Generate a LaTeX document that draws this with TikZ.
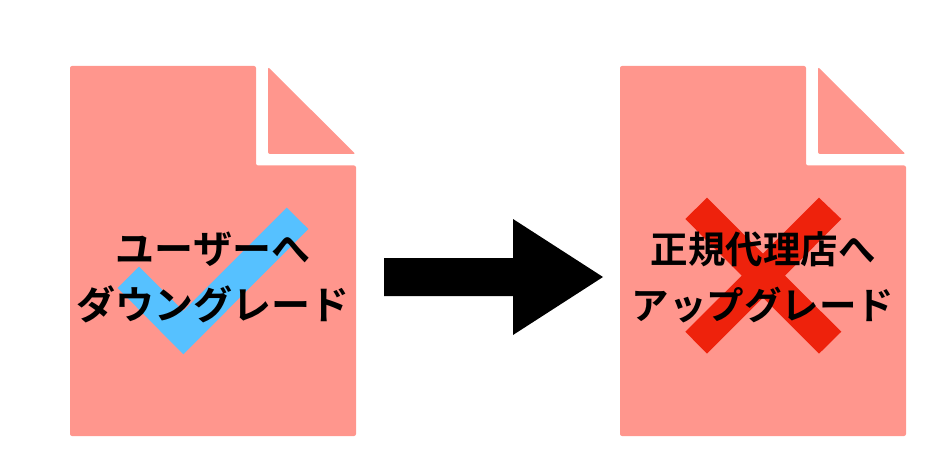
\documentclass[tikz,border=0pt]{standalone}
\usepackage{xcolor}
\usepackage{fontspec}
\usepackage{tikz}
\newfontfamily\jpbold{Noto Sans CJK JP Bold}
\definecolor{pagepink}{HTML}{FF968D}
\definecolor{tickblue}{HTML}{56C1FF}
\definecolor{crossred}{HTML}{EE220C}
\tikzset{
  pagefill/.style={fill=pagepink, rounded corners=2pt},
  pagetext/.style={text=black, align=center, inner sep=0pt},
}

\begin{document}
\begin{tikzpicture}[x=1pt, y=-1pt]
\useasboundingbox (0, 0) rectangle (948, 468);

\fill[pagefill] (70, 66) -- (256, 66) -- (256, 165.5) -- (356, 165.5) -- (356, 436) -- (70, 436) -- cycle;
\fill[pagefill] (268, 67) -- (355.5, 154) -- (268, 154) -- cycle;
\fill[pagefill] (620, 66) -- (806, 66) -- (806, 165.5) -- (906, 165.5) -- (906, 436) -- (620, 436) -- cycle;
\fill[pagefill] (818, 67) -- (905.5, 154) -- (818, 154) -- cycle;

\fill[tickblue] (286.7, 207.7) -- (308.3, 229) -- (183.3, 354.3) -- (117.7, 288) -- (139, 266.7) -- (183.3, 311) -- cycle;

\fill[crossred] (707, 197.7) -- (763, 253.7) -- (819, 197.7) -- (841.3, 219) -- (785, 275.7) -- (841.3, 331.7) -- (819, 353.7) -- (763, 297.7) -- (707, 353.7) -- (685.3, 331.7) -- (741.7, 275.7) -- (685.3, 219) -- cycle;

\fill[black] (384, 258) -- (513, 258) -- (513, 219) -- (603, 277) -- (513, 335) -- (513, 296) -- (384, 296) -- cycle;

\node[pagetext, font=\jpbold\fontsize{39}{56}\selectfont] (downgrade) at (213, 277) {ユーザーへ\\ダウングレード};
\node[pagetext, font=\jpbold\fontsize{37.5}{56}\selectfont] (upgrade) at (763, 277) {正規代理店へ\\アップグレード};
\end{tikzpicture}
\end{document}
